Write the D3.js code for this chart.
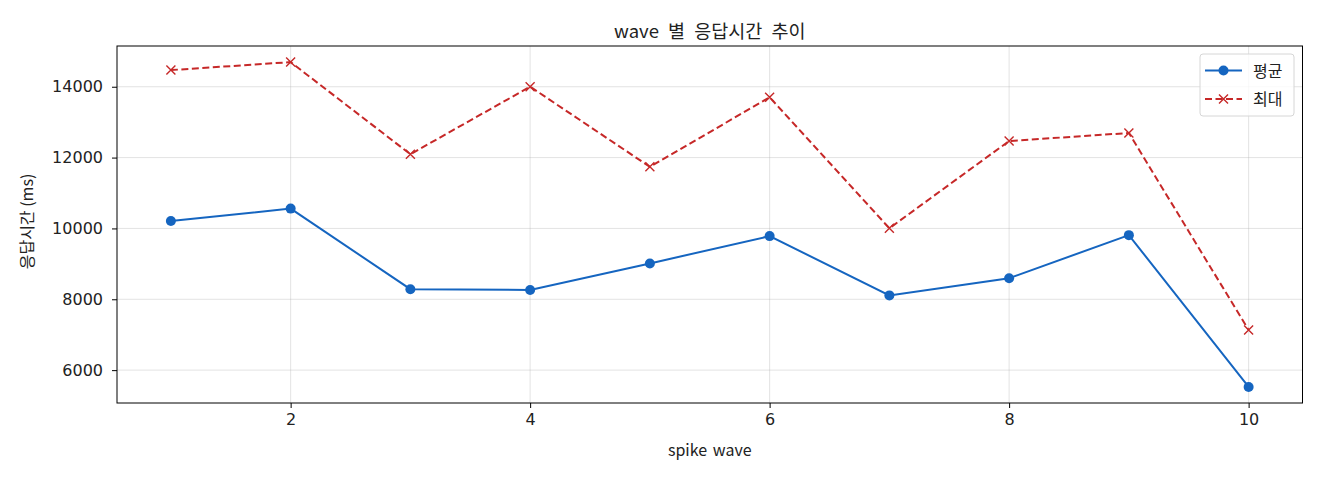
<!DOCTYPE html>
<html>
<head>
<meta charset="utf-8">
<script src="https://cdn.jsdelivr.net/npm/d3@7"></script>
<style>
  body { margin: 0; background: #fff; }
  svg text { font-family: "Noto Sans CJK KR", "Noto Sans", sans-serif; fill: #222; }
</style>
</head>
<body>
<div id="chart"></div>
<script>
// data
var waves = [1, 2, 3, 4, 5, 6, 7, 8, 9, 10];
var avgMs = [10210, 10560, 8285, 8262, 9012, 9783, 8110, 8595, 9811, 5525];
var maxMs = [14470, 14695, 12095, 14002, 11738, 13702, 10005, 12468, 12694, 7135];
var seriesNames = ["평균", "최대"];
var xTicks = [2, 4, 6, 8, 10];
var yTicks = [6000, 8000, 10000, 12000, 14000];

var width = 1320, height = 480;
var plotLeft = 117, plotRight = 1302.5, plotTop = 46, plotBottom = 403;
var blue = "#1565c0", red = "#c62828";

var svg = d3.select("#chart").append("svg")
  .attr("width", width)
  .attr("height", height);

var x = d3.scaleLinear().domain([0.55, 10.45]).range([plotLeft, plotRight]);
var y = d3.scaleLinear().domain([5072, 15150]).range([plotBottom, plotTop]);

// grid
var grid = svg.append("g");
grid.selectAll("line.gx")
  .data(xTicks)
  .enter().append("line")
  .attr("x1", function(d) { return x(d); })
  .attr("x2", function(d) { return x(d); })
  .attr("y1", plotTop).attr("y2", plotBottom)
  .attr("stroke", "#b0b0b0").attr("stroke-opacity", 0.35).attr("stroke-width", 1);
grid.selectAll("line.gy")
  .data(yTicks)
  .enter().append("line")
  .attr("y1", function(d) { return y(d); })
  .attr("y2", function(d) { return y(d); })
  .attr("x1", plotLeft).attr("x2", plotRight)
  .attr("stroke", "#b0b0b0").attr("stroke-opacity", 0.35).attr("stroke-width", 1);

// axes
var xAxis = svg.append("g")
  .attr("transform", "translate(0," + plotBottom + ")")
  .call(d3.axisBottom(x).tickValues(xTicks).tickSize(5).tickPadding(6).tickFormat(d3.format("d")));
var yAxis = svg.append("g")
  .attr("transform", "translate(" + plotLeft + ",0)")
  .call(d3.axisLeft(y).tickValues(yTicks).tickSize(5).tickPadding(9).tickFormat(d3.format("d")));
[xAxis, yAxis].forEach(function(a) {
  a.select(".domain").remove();
  a.selectAll(".tick line").attr("stroke", "#000").attr("stroke-width", 1);
  a.selectAll(".tick text")
    .style("font-size", "16px")
    .style("font-family", "'DejaVu Sans', sans-serif")
    .attr("fill", "#222");
});

// frame
svg.append("rect")
  .attr("x", plotLeft).attr("y", plotTop)
  .attr("width", plotRight - plotLeft).attr("height", plotBottom - plotTop)
  .attr("fill", "none").attr("stroke", "#000").attr("stroke-width", 1);

var line = d3.line()
  .x(function(d, i) { return x(waves[i]); })
  .y(function(d) { return y(d); });

// avg series
svg.append("path")
  .datum(avgMs)
  .attr("d", line)
  .attr("fill", "none")
  .attr("stroke", blue)
  .attr("stroke-width", 2);
svg.selectAll("circle.avg")
  .data(avgMs)
  .enter().append("circle")
  .attr("cx", function(d, i) { return x(waves[i]); })
  .attr("cy", function(d) { return y(d); })
  .attr("r", 5)
  .attr("fill", blue);

// max series
svg.append("path")
  .datum(maxMs)
  .attr("d", line)
  .attr("fill", "none")
  .attr("stroke", red)
  .attr("stroke-width", 2)
  .attr("stroke-dasharray", "7,3.5");
var cross = "M-4.5,-4.5L4.5,4.5M-4.5,4.5L4.5,-4.5";
svg.selectAll("path.maxm")
  .data(maxMs)
  .enter().append("path")
  .attr("transform", function(d, i) { return "translate(" + x(waves[i]) + "," + y(d) + ")"; })
  .attr("d", cross)
  .attr("stroke", red)
  .attr("stroke-width", 1.4)
  .attr("fill", "none");

// titles
svg.append("text")
  .text("wave 별 응답시간 추이")
  .attr("x", (plotLeft + plotRight) / 2).attr("y", 38)
  .attr("text-anchor", "middle")
  .style("font-size", "18.5px")
  .style("word-spacing", "5px");
svg.append("text")
  .text("spike wave")
  .attr("x", (plotLeft + plotRight) / 2).attr("y", 456)
  .attr("text-anchor", "middle")
  .style("font-size", "16px")
  .style("word-spacing", "2px");
svg.append("text")
  .text("응답시간 (ms)")
  .attr("transform", "translate(33," + ((plotTop + plotBottom) / 2 - 3) + ") rotate(-90)")
  .attr("text-anchor", "middle")
  .style("font-size", "16px");

// legend
var legend = svg.append("g").attr("id", "legend");
legend.append("rect")
  .attr("x", 1200).attr("y", 54)
  .attr("width", 94).attr("height", 62)
  .attr("rx", 3)
  .attr("fill", "#fff").attr("fill-opacity", 0.8)
  .attr("stroke", "#d6d6d6");
var rows = legend.selectAll("g.row")
  .data(seriesNames)
  .enter().append("g")
  .attr("transform", function(d, i) { return "translate(1205," + (70.5 + i * 28.5) + ")"; });
rows.append("line")
  .attr("x1", 0).attr("x2", 37)
  .attr("stroke", function(d, i) { return i == 0 ? blue : red; })
  .attr("stroke-width", 2)
  .attr("stroke-dasharray", function(d, i) { return i == 0 ? null : "7,3.5"; });
rows.filter(function(d, i) { return i == 0; })
  .append("circle").attr("cx", 18.5).attr("r", 5).attr("fill", blue);
rows.filter(function(d, i) { return i == 1; })
  .append("path").attr("transform", "translate(18.5,0)").attr("d", cross)
  .attr("stroke", red).attr("stroke-width", 1.4);
rows.append("text")
  .text(function(d) { return d; })
  .attr("x", 48).attr("y", 6)
  .style("font-size", "16px");
</script>
</body>
</html>
